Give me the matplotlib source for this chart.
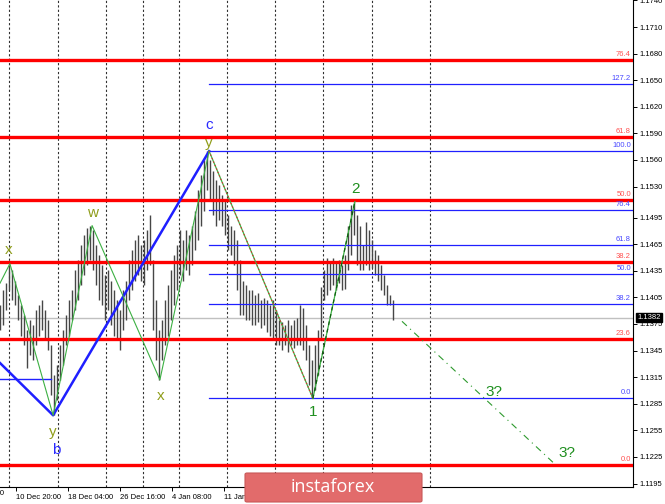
import matplotlib
matplotlib.use("Agg")
import matplotlib.pyplot as plt
from matplotlib.patches import FancyBboxPatch

plt.rcParams['font.family'] = ['Liberation Sans', 'DejaVu Sans']

# ---- данные: бары H4 (максимумы / минимумы), индекс бара = позиция по X
highs = [1.1396, 1.1413, 1.1421, 1.1442, 1.1436, 1.1424, 1.1408, 1.1396, 1.1385, 1.1368,
         1.1379, 1.1374, 1.1391, 1.1396, 1.1402, 1.1391, 1.1379, 1.1351, 1.1317, 1.1329,
         1.1351, 1.1368, 1.1385, 1.1402, 1.1413, 1.1436, 1.1447, 1.1464, 1.1475, 1.1483,
         1.1486, 1.1481, 1.1464, 1.1453, 1.1441, 1.1430, 1.1436, 1.1424, 1.1413, 1.1402,
         1.1391, 1.1413, 1.1424, 1.1447, 1.1458, 1.1470, 1.1475, 1.1464, 1.1470, 1.1481,
         1.1498, 1.1447, 1.1402, 1.1368, 1.1379, 1.1402, 1.1419, 1.1436, 1.1453, 1.1464,
         1.1481, 1.1470, 1.1481, 1.1475, 1.1486, 1.1503, 1.1526, 1.1543, 1.1560, 1.1570,
         1.1560, 1.1548, 1.1537, 1.1532, 1.1520, 1.1515, 1.1498, 1.1486, 1.1481, 1.1470,
         1.1447, 1.1424, 1.1419, 1.1413, 1.1413, 1.1408, 1.1410, 1.1402, 1.1404, 1.1402,
         1.1396, 1.1402, 1.1391, 1.1379, 1.1377, 1.1374, 1.1379, 1.1374, 1.1379, 1.1382,
         1.1396, 1.1393, 1.1374, 1.1351, 1.1334, 1.1351, 1.1368, 1.1417, 1.1436, 1.1449,
         1.1445, 1.1449, 1.1445, 1.1447, 1.1441, 1.1453, 1.1486, 1.1509, 1.1513, 1.1498,
         1.1486, 1.1464, 1.1490, 1.1481, 1.1470, 1.1458, 1.1453, 1.1441, 1.1430, 1.1419,
         1.1408, 1.1402]
lows = [1.1368, 1.1374, 1.1391, 1.1413, 1.1402, 1.1396, 1.1379, 1.1362, 1.1351, 1.1325,
        1.1340, 1.1334, 1.1351, 1.1362, 1.1368, 1.1357, 1.1346, 1.1295, 1.1272, 1.1289,
        1.1312, 1.1329, 1.1351, 1.1362, 1.1379, 1.1391, 1.1402, 1.1419, 1.1430, 1.1441,
        1.1447, 1.1436, 1.1419, 1.1402, 1.1396, 1.1379, 1.1391, 1.1374, 1.1362, 1.1357,
        1.1346, 1.1368, 1.1379, 1.1402, 1.1413, 1.1424, 1.1430, 1.1424, 1.1419, 1.1436,
        1.1441, 1.1368, 1.1334, 1.1312, 1.1334, 1.1351, 1.1362, 1.1379, 1.1396, 1.1413,
        1.1430, 1.1424, 1.1436, 1.1430, 1.1441, 1.1458, 1.1470, 1.1486, 1.1503, 1.1526,
        1.1515, 1.1498, 1.1486, 1.1492, 1.1486, 1.1475, 1.1458, 1.1453, 1.1441, 1.1413,
        1.1385, 1.1385, 1.1379, 1.1379, 1.1374, 1.1374, 1.1377, 1.1370, 1.1374, 1.1366,
        1.1362, 1.1357, 1.1351, 1.1351, 1.1346, 1.1351, 1.1343, 1.1351, 1.1348, 1.1351,
        1.1351, 1.1346, 1.1334, 1.1306, 1.1291, 1.1300, 1.1317, 1.1357, 1.1402, 1.1408,
        1.1413, 1.1419, 1.1413, 1.1421, 1.1413, 1.1415, 1.1436, 1.1453, 1.1475, 1.1441,
        1.1436, 1.1436, 1.1441, 1.1436, 1.1438, 1.1430, 1.1424, 1.1413, 1.1408, 1.1396,
        1.1396, 1.1379]
last_price = 1.1382

# уровни Фибоначчи (красные - большие, синие - малые)
red_names = ['76.4', '61.8', '50.0', '38.2', '23.6', '0.0']
red_levels = [1.1673, 1.1586, 1.1515, 1.1445, 1.1358, 1.1216]
blue_names = ['127.2', '100.0', '76.4', '61.8', '50.0', '38.2', '0.0']
blue_levels = [1.1646, 1.1570, 1.1504, 1.1464, 1.1431, 1.1398, 1.1291]
blue_start = 69.7

# волновая разметка
green_x = [0, 3.3, 17.7, 30.7, 53.3, 69.7]
green_y = [1.1421, 1.1443, 1.1272, 1.1486, 1.1312, 1.1570]
wave1_x = [69.7, 104.3]
wave1_y = [1.1570, 1.1291]
wave2_x = [104.3, 118.3]
wave2_y = [1.1291, 1.1513]
proj_x = [134.0, 184.3]
proj_y = [1.1378, 1.1219]
big_x = [0, 17.7, 69.7]
big_y = [1.1331, 1.1272, 1.1570]
old_level_x = [0, 17.0]
old_level_y = [1.1313, 1.1313]

labels = [('x', 3.0, 1.1459, '#8f9d1a'), ('w', 30.7, 1.1500, '#8f9d1a'),
          ('x', 53.6, 1.1294, '#8f9d1a'), ('y', 17.7, 1.1253, '#8f9d1a'),
          ('b', 18.6, 1.1233, '#2a2aff'), ('y', 69.7, 1.1579, '#8f9d1a'),
          ('c', 69.7, 1.1600, '#2a2aff'), ('1', 104.3, 1.1276, '#1f8f1f'),
          ('2', 118.6, 1.1527, '#1f8f1f'), ('3?', 164.7, 1.1298, '#1f8f1f'),
          ('3?', 189.0, 1.1229, '#1f8f1f')]

# сетка и ось времени
grid_x = [3, 19.33, 35.33, 47.67, 59.67, 75.67, 91.67, 107.67, 124, 143.33]
date_x = [5.33, 22.67, 40, 57.33, 74.67]
date_labels = ['10 Dec 20:00', '18 Dec 04:00', '26 Dec 16:00', '4 Jan 08:00', '11 Jan 00:00']
price_ticks = [1.1740, 1.1710, 1.1680, 1.1650, 1.1620, 1.1590, 1.1560, 1.1530, 1.1495,
               1.1465, 1.1435, 1.1405, 1.1375, 1.1345, 1.1315, 1.1285, 1.1255, 1.1225, 1.1195]

fig = plt.figure(figsize=(6.65, 5.04), dpi=100)
ax = fig.add_axes([0, 17 / 504, 633 / 665, 487 / 504])
ax.set_xlim(0, 211)
ax.set_ylim(1.11911, 1.17405)

for gx in grid_x:
    ax.axvline(gx, color='#303030', lw=0.8, ls=(0, (2, 2)), zorder=1)

ax.axhline(last_price, color='#c0c0c0', lw=1.0, zorder=1)

xs = list(range(len(highs)))
ax.vlines(xs, lows, highs, color='#464646', lw=1.0, zorder=2)

for name, lev in zip(red_names, red_levels):
    ax.axhline(lev, color='#ff0000', lw=2.4, zorder=3)
    ax.annotate(name, (210.3, lev), xytext=(0, 1.5), textcoords='offset points',
                ha='right', va='bottom', fontsize=5.5, color='#ff5050')
for name, lev in zip(blue_names, blue_levels):
    ax.plot([blue_start, 211], [lev, lev], color='#2020ff', lw=0.9, zorder=3)
    ax.annotate(name, (210.3, lev), xytext=(0, 1.5), textcoords='offset points',
                ha='right', va='bottom', fontsize=5.5, color='#4848ff')

ax.plot(old_level_x, old_level_y, color='#2020ff', lw=1.0, zorder=3)
ax.plot(big_x, big_y, color='#1f1fff', lw=1.8, zorder=4)
ax.plot(green_x, green_y, color='#3cb043', lw=0.8, zorder=4)
ax.plot(wave1_x, wave1_y, color='#3cb043', lw=0.9, zorder=4)
ax.plot(wave1_x, wave1_y, color='#e03030', lw=0.9, ls=(0, (1, 2)), zorder=5)
ax.plot(wave2_x, wave2_y, color='#3cb043', lw=0.9, zorder=4)
ax.plot(wave2_x, wave2_y, color='#106010', lw=0.9, ls=(0, (3, 3)), zorder=5)
ax.plot(proj_x, proj_y, color='#2e9a2e', lw=0.8, ls=(0, (6, 4, 1, 4)), zorder=4)

for txt, lx, ly, col in labels:
    ax.text(lx, ly, txt, color=col, fontsize=11, ha='center', va='center', zorder=6)

# оси в стиле MT4
ax.yaxis.tick_right()
ax.set_yticks(price_ticks)
ax.set_yticklabels(['%.4f' % p for p in price_ticks])
ax.set_xticks(date_x)
ax.set_xticklabels(date_labels, ha='left')
ax.tick_params(axis='both', labelsize=5.5, length=3, width=0.7, pad=2, colors='black')
for s in ['top', 'left']:
    ax.spines[s].set_visible(False)
for s in ['right', 'bottom']:
    ax.spines[s].set_linewidth(0.8)
ax.text(1.3, -0.007, '3 Dec 12:00', transform=ax.get_xaxis_transform(),
        ha='right', va='top', fontsize=5.5, clip_on=False)

ax.annotate('%.4f' % last_price, (1.0, last_price), xycoords=('axes fraction', 'data'),
            xytext=(3, 0), textcoords='offset points', ha='left', va='center',
            fontsize=5.5, color='white', zorder=10,
            bbox=dict(boxstyle='square,pad=0.15', fc='black', ec='black'))

# логотип
logo = FancyBboxPatch((245 / 665, 2 / 504), 177 / 665, 29 / 504,
                      boxstyle='round,pad=0,rounding_size=0.003',
                      transform=fig.transFigure, fc='#e26b6b', ec='#c85858', lw=0.8,
                      zorder=20)
fig.add_artist(logo)
fig.text(333 / 665, 16.5 / 504, 'instaforex', color='white', fontsize=13,
         family=['Open Sans', 'DejaVu Sans'], ha='center', va='center', zorder=21)

fig.savefig('out.png', dpi=100)
